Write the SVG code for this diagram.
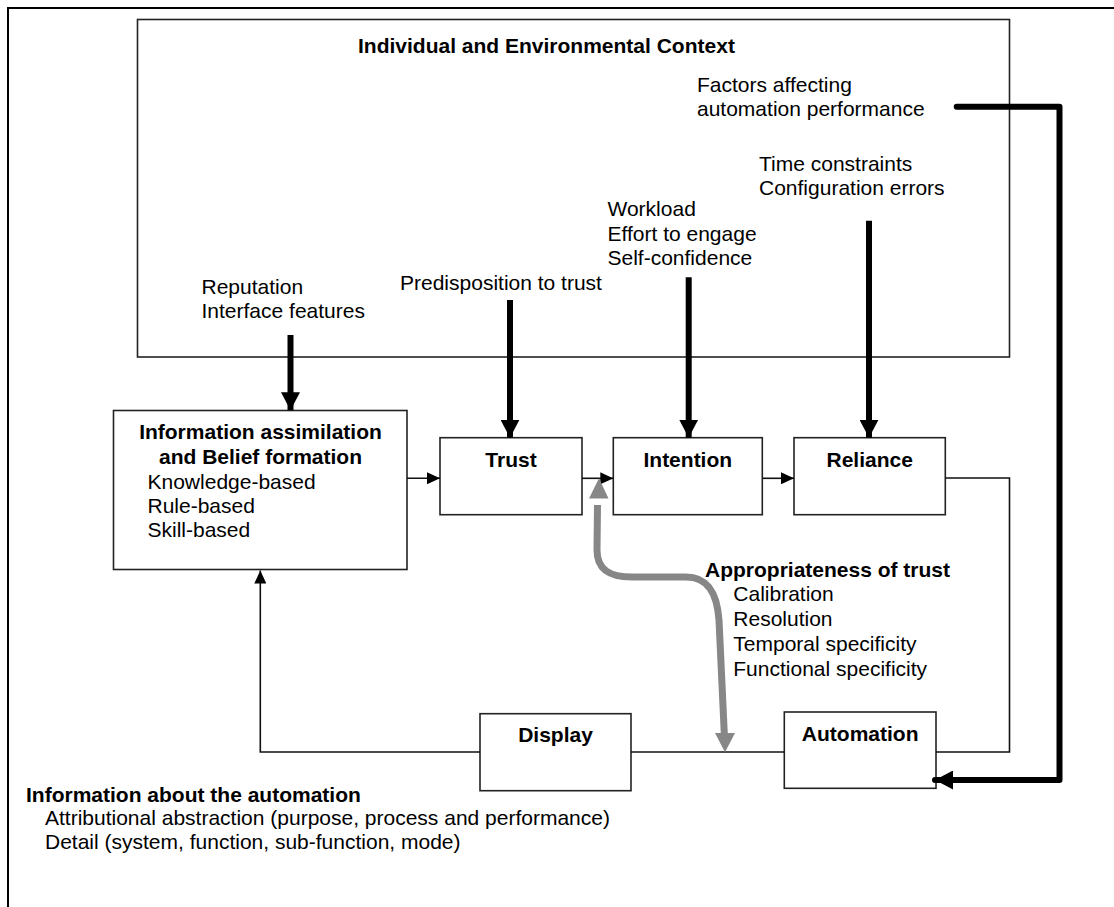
<svg xmlns="http://www.w3.org/2000/svg" width="1114" height="907" viewBox="0 0 1114 907">
<style>
text{font-family:"Liberation Sans",Arial,sans-serif;font-size:21px;fill:#000}
.b{font-weight:bold}
.c{text-anchor:middle}
.box{fill:#fff;stroke:#222;stroke-width:1.6}
.thin{fill:none;stroke:#111;stroke-width:1.6}
.thick{fill:none;stroke:#000;stroke-width:6}
.gray{fill:none;stroke:#878787;stroke-width:7}
</style>
<defs>
<marker id="ah" viewBox="0 0 13 12" refX="13" refY="6" markerWidth="13" markerHeight="12" markerUnits="userSpaceOnUse" orient="auto"><path d="M0,0 L13,6 L0,12 Z" fill="#000"/></marker>
<marker id="ahT" viewBox="0 0 18 19" refX="18" refY="9.5" markerWidth="18" markerHeight="19" markerUnits="userSpaceOnUse" orient="auto"><path d="M0,0 L18,9.5 L0,19 Z" fill="#000"/></marker>
<marker id="ahG" viewBox="0 0 19 20" refX="19" refY="10" markerWidth="19" markerHeight="20" markerUnits="userSpaceOnUse" orient="auto"><path d="M0,0 L19,10 L0,20 Z" fill="#878787"/></marker>
</defs>
<rect x="8" y="8" width="1200" height="1000" fill="#fff" stroke="#000" stroke-width="2"/>

<g id="context">
<rect class="box" x="137.5" y="19.5" width="872" height="337.5"/>
<text class="b" x="358" y="53">Individual and Environmental Context</text>
<text x="697" y="92">Factors affecting</text>
<text x="697" y="115.5">automation performance</text>
<text x="759" y="170.5">Time constraints</text>
<text x="759" y="194.5">Configuration errors</text>
<text x="607.5" y="216">Workload</text>
<text x="607.5" y="240.5">Effort to engage</text>
<text x="607.5" y="264.5">Self-confidence</text>
<text x="400" y="290">Predisposition to trust</text>
<text x="201.5" y="293.5">Reputation</text>
<text x="201.5" y="318">Interface features</text>
</g>

<g id="info">
<rect class="box" x="113.5" y="410.5" width="293.5" height="159"/>
<text class="b c" x="260.5" y="438.5">Information assimilation</text>
<text class="b c" x="260.5" y="463.5">and Belief formation</text>
<text x="147.5" y="488.5">Knowledge-based</text>
<text x="147.5" y="512.5">Rule-based</text>
<text x="147.5" y="537">Skill-based</text>
</g>

<g id="trust">
<rect class="box" x="440" y="437.7" width="142" height="77"/>
<text class="b c" x="511" y="466.5">Trust</text>
</g>

<g id="intention">
<rect class="box" x="613.3" y="437.7" width="149" height="77"/>
<text class="b c" x="687.8" y="466.5">Intention</text>
</g>

<g id="reliance">
<rect class="box" x="794" y="437.7" width="151.3" height="77"/>
<text class="b c" x="869.7" y="466.5">Reliance</text>
</g>

<g id="display">
<rect class="box" x="480" y="713.7" width="151" height="77"/>
<text class="b c" x="555.5" y="742">Display</text>
</g>

<g id="automation">
<rect class="box" x="784.3" y="712" width="151.7" height="76.3"/>
<text class="b c" x="860.2" y="740.5">Automation</text>
</g>

<g id="appropriateness">
<text class="b" x="705" y="577">Appropriateness of trust</text>
<text x="733.3" y="601">Calibration</text>
<text x="733.3" y="626">Resolution</text>
<text x="733.3" y="651">Temporal specificity</text>
<text x="733.3" y="675.5">Functional specificity</text>
</g>

<g id="info-about">
<text class="b" x="26" y="802">Information about the automation</text>
<text x="45" y="825">Attributional abstraction (purpose, process and performance)</text>
<text x="45" y="848.5">Detail (system, function, sub-function, mode)</text>
</g>

<g id="connectors">
<line class="thin" x1="407" y1="478.3" x2="440" y2="478.3" marker-end="url(#ah)"/>
<line class="thin" x1="582" y1="478.3" x2="613.3" y2="478.3" marker-end="url(#ah)"/>
<line class="thin" x1="762.3" y1="478.3" x2="794" y2="478.3" marker-end="url(#ah)"/>
<polyline class="thin" points="945.3,478 1009.5,478 1009.5,752 936,752"/>
<line class="thin" x1="631" y1="752" x2="784.3" y2="752"/>
<polyline class="thin" points="480,752 260.3,752 260.3,570.5" marker-end="url(#ah)"/>

<line class="thick" x1="290.5" y1="335" x2="290.5" y2="410.3" marker-end="url(#ahT)"/>
<line class="thick" x1="510" y1="300" x2="510" y2="437.7" marker-end="url(#ahT)"/>
<line class="thick" x1="688.7" y1="277.3" x2="688.7" y2="437.7" marker-end="url(#ahT)"/>
<line class="thick" x1="869" y1="220.7" x2="869" y2="437.7" marker-end="url(#ahT)"/>
<path class="thick" d="M956.7,106.7 L1059.5,106.7 L1059.5,780 L935,780" stroke-linecap="round" stroke-linejoin="round" marker-end="url(#ahT)"/>

<path class="gray" d="M597.5,505 L597,550 C597,570 610,577 632,577 L686,577 C708,577 717,593 719,620 L724.5,738"/>
<polygon points="599,478.3 589,498.5 608.5,498.5" fill="#878787"/>
<polygon points="725,752.3 715,733 735,733" fill="#878787"/>
</g>
</svg>
